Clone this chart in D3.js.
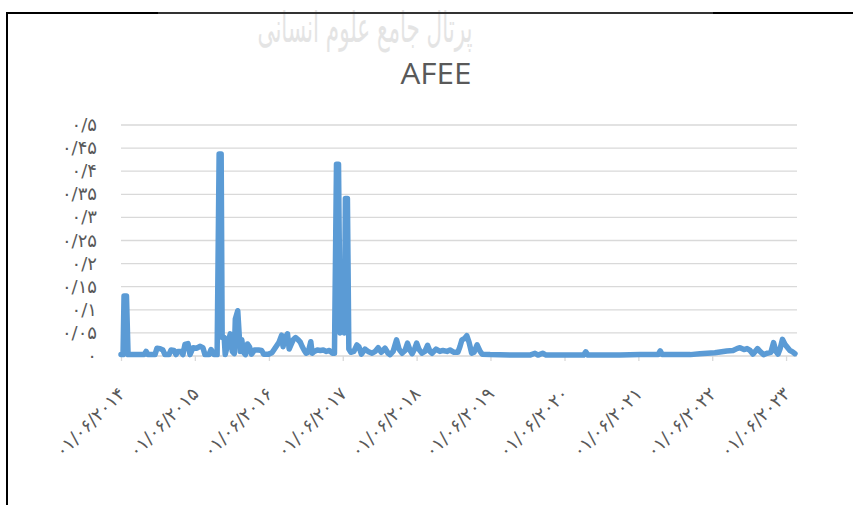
<!DOCTYPE html>
<html>
<head>
<meta charset="utf-8">
<script src="https://cdn.jsdelivr.net/npm/d3@7"></script>
<style>
  body { margin: 0; background: #fff; }
  svg { display: block; }
</style>
</head>
<body>
<div id="chart"></div>
<script>
// series (date, value)
const dates = [
  "2014-06-01","2014-06-11","2014-06-16","2014-06-28","2014-07-06","2014-09-03","2014-09-23","2014-10-03","2014-10-12",
  "2014-11-16","2014-11-26","2014-12-11","2014-12-25","2015-01-04","2015-01-24","2015-02-03","2015-02-18","2015-02-28",
  "2015-03-10","2015-03-24","2015-04-03","2015-04-13","2015-04-28","2015-05-08","2015-05-23","2015-06-11","2015-06-26",
  "2015-07-11","2015-07-21","2015-08-10","2015-08-20","2015-09-04","2015-09-19","2015-09-29","2015-10-09","2015-10-14",
  "2015-10-24","2015-10-29","2015-11-13","2015-11-23","2015-12-03","2015-12-13","2015-12-18","2015-12-30","2016-01-07",
  "2016-01-11","2016-01-19","2016-01-27","2016-02-06","2016-02-16","2016-02-26","2016-03-07","2016-03-22","2016-04-11",
  "2016-04-26","2016-05-06","2016-05-31","2016-06-16","2016-07-06","2016-07-21","2016-08-03","2016-08-10","2016-08-20",
  "2016-09-01","2016-09-09","2016-09-19","2016-09-29","2016-10-11","2016-10-24","2016-11-03","2016-11-13","2016-11-23",
  "2016-12-02","2016-12-12","2016-12-25","2017-01-01","2017-01-11","2017-01-26","2017-02-10","2017-02-25","2017-03-12",
  "2017-03-27","2017-04-11","2017-04-21","2017-05-01","2017-05-11","2017-05-19","2017-05-26","2017-06-02","2017-06-09",
  "2017-06-14","2017-06-24","2017-07-01","2017-07-11","2017-07-26","2017-08-10","2017-08-20","2017-09-01","2017-09-19",
  "2017-10-04","2017-10-24","2017-11-08","2017-11-23","2017-12-08","2017-12-27","2018-01-11","2018-01-21","2018-02-05",
  "2018-02-22","2018-03-06","2018-03-21","2018-04-05","2018-04-17","2018-04-30","2018-05-10","2018-05-22","2018-06-01",
  "2018-06-12","2018-06-27","2018-07-12","2018-07-25","2018-08-06","2018-08-16","2018-09-05","2018-09-24","2018-10-09",
  "2018-10-29","2018-11-13","2018-12-03","2018-12-22","2019-01-01","2019-01-11","2019-01-24","2019-02-04","2019-02-15",
  "2019-02-28","2019-03-12","2019-03-27","2019-04-11","2019-04-21","2019-05-30","2019-09-05","2019-12-13","2020-01-07",
  "2020-01-22","2020-02-14","2020-03-02","2020-06-28","2020-09-03","2020-09-14","2020-09-25","2021-03-02","2021-06-09",
  "2021-09-07","2021-09-17","2021-09-27","2022-02-13","2022-04-01","2022-06-14","2022-08-12","2022-09-12","2022-10-01",
  "2022-10-16","2022-11-05","2022-11-20","2022-12-05","2022-12-19","2023-01-11","2023-01-23","2023-02-10","2023-02-27",
  "2023-03-18","2023-03-31","2023-04-12","2023-04-22","2023-05-02","2023-05-14","2023-05-27","2023-06-05","2023-06-20",
  "2023-06-30","2023-07-15"
];
const values = [
  0.003,0.003,0.13,0.13,0.003,0.003,0.003,0.01,0.003,
  0.003,0.017,0.016,0.013,0.003,0.003,0.013,0.012,0.003,
  0.01,0.01,0.003,0.025,0.027,0.003,0.018,0.017,0.021,
  0.018,0.003,0.003,0.014,0.003,0.003,0.437,0.437,0.04,
  0.04,0.003,0.03,0.048,0.01,0.005,0.08,0.098,0.04,
  0.01,0.035,0.008,0.003,0.026,0.02,0.004,0.013,0.013,
  0.012,0.004,0.004,0.007,0.02,0.03,0.045,0.02,0.04,
  0.048,0.015,0.025,0.035,0.04,0.035,0.03,0.02,0.012,
  0.006,0.008,0.031,0.006,0.01,0.013,0.012,0.013,0.01,
  0.012,0.006,0.006,0.415,0.415,0.05,0.055,0.06,0.05,
  0.341,0.341,0.015,0.008,0.01,0.024,0.02,0.004,0.015,
  0.01,0.006,0.01,0.018,0.008,0.017,0.006,0.003,0.01,
  0.035,0.015,0.006,0.012,0.028,0.012,0.005,0.015,0.028,
  0.015,0.006,0.01,0.023,0.01,0.006,0.015,0.01,0.012,
  0.01,0.013,0.008,0.008,0.02,0.035,0.038,0.044,0.03,
  0.006,0.008,0.024,0.01,0.004,0.003,0.002,0.002,0.006,
  0.002,0.006,0.002,0.002,0.002,0.009,0.002,0.002,0.003,
  0.003,0.011,0.003,0.003,0.005,0.007,0.011,0.012,0.016,
  0.018,0.014,0.016,0.012,0.004,0.016,0.01,0.003,0.006,
  0.008,0.029,0.01,0.004,0.015,0.036,0.025,0.02,0.012,
  0.01,0.005
];

const xTickDates = ["2014-06-01","2015-06-01","2016-06-01","2017-06-01","2018-06-01","2019-06-01","2020-06-01","2021-06-01","2022-06-01","2023-06-01"];
const xTickLabels = ["۰۱/۰۶/۲۰۱۴","۰۱/۰۶/۲۰۱۵","۰۱/۰۶/۲۰۱۶","۰۱/۰۶/۲۰۱۷","۰۱/۰۶/۲۰۱۸","۰۱/۰۶/۲۰۱۹","۰۱/۰۶/۲۰۲۰","۰۱/۰۶/۲۰۲۱","۰۱/۰۶/۲۰۲۲","۰۱/۰۶/۲۰۲۳"];
const yTickValues = [0,0.05,0.1,0.15,0.2,0.25,0.3,0.35,0.4,0.45,0.5];
const yTickLabels = ["۰","۰/۰۵","۰/۱","۰/۱۵","۰/۲","۰/۲۵","۰/۳","۰/۳۵","۰/۴","۰/۴۵","۰/۵"];
const xStart = "2014-06-01", xEnd = "2023-07-25";

const width = 853, height = 505;
const parse = d3.timeParse("%Y-%m-%d");
const data = dates.map((d, i) => ({ date: parse(d), value: values[i] }));

const svg = d3.select("#chart").append("svg")
  .attr("width", width)
  .attr("height", height);

// watermark behind everything
svg.append("text")
  .attr("x", 365)
  .attr("y", 42)
  .attr("text-anchor", "middle")
  .attr("textLength", 215)
  .attr("lengthAdjust", "spacingAndGlyphs")
  .style("font-family", "DejaVu Sans")
  .style("font-size", "42px")
  .style("fill", "#dedede")
  .text("پرتال جامع علوم انسانی");

// chart frame
svg.append("rect")
  .attr("x", 7)
  .attr("y", 13)
  .attr("width", 900)
  .attr("height", 600)
  .attr("fill", "none")
  .attr("stroke", "#000")
  .attr("stroke-width", 2);

// light band from the scanned watermark
svg.append("rect")
  .attr("x", 158).attr("y", 0)
  .attr("width", 555).attr("height", 90)
  .attr("fill", "#fff")
  .attr("opacity", 0.2);

const x = d3.scaleTime()
  .domain([parse(xStart), parse(xEnd)])
  .range([121, 797]);

const y = d3.scaleLinear()
  .domain([0, 0.5])
  .range([356, 125]);

// gridlines
svg.append("g")
  .selectAll("line")
  .data(yTickValues)
  .enter().append("line")
  .attr("x1", 121).attr("x2", 797)
  .attr("y1", d => y(d)).attr("y2", d => y(d))
  .attr("stroke", "#d9d9d9")
  .attr("stroke-width", 1.3);

// y labels
svg.append("g")
  .selectAll("text")
  .data(yTickValues)
  .enter().append("text")
  .attr("x", 97)
  .attr("y", d => y(d) + 6)
  .attr("text-anchor", "end")
  .style("font-family", "DejaVu Sans")
  .style("font-size", "18px")
  .style("fill", "#595959")
  .text((d, i) => yTickLabels[i]);

// x axis ticks
const xAxis = d3.axisBottom(x)
  .tickValues(xTickDates.map(parse))
  .tickSize(5)
  .tickFormat("");

const gx = svg.append("g")
  .attr("transform", "translate(0,356)")
  .call(xAxis);
gx.select(".domain").remove();
gx.selectAll(".tick line").attr("stroke", "#d9d9d9").attr("stroke-width", 1.3);

svg.append("g")
  .selectAll("text")
  .data(xTickDates)
  .enter().append("text")
  .attr("transform", d => `translate(${x(parse(d)) + 5},395) rotate(-45)`)
  .attr("text-anchor", "end")
  .style("font-family", "DejaVu Sans")
  .style("font-size", "18px")
  .style("fill", "#595959")
  .text((d, i) => xTickLabels[i]);

// series
const line = d3.line()
  .x(d => x(d.date))
  .y(d => y(d.value));

svg.append("path")
  .datum(data)
  .attr("d", line)
  .attr("fill", "none")
  .attr("stroke", "#5b9bd5")
  .attr("stroke-width", 5.5)
  .attr("stroke-linejoin", "round")
  .attr("stroke-linecap", "round");

// title
svg.append("text")
  .attr("x", 436)
  .attr("y", 84)
  .attr("text-anchor", "middle")
  .attr("textLength", 71)
  .attr("lengthAdjust", "spacingAndGlyphs")
  .style("font-family", "Liberation Sans Narrow, Open Sans, sans-serif")
  .style("font-size", "30px")
  .style("fill", "#595959")
  .text("AFEE");
</script>
</body>
</html>
